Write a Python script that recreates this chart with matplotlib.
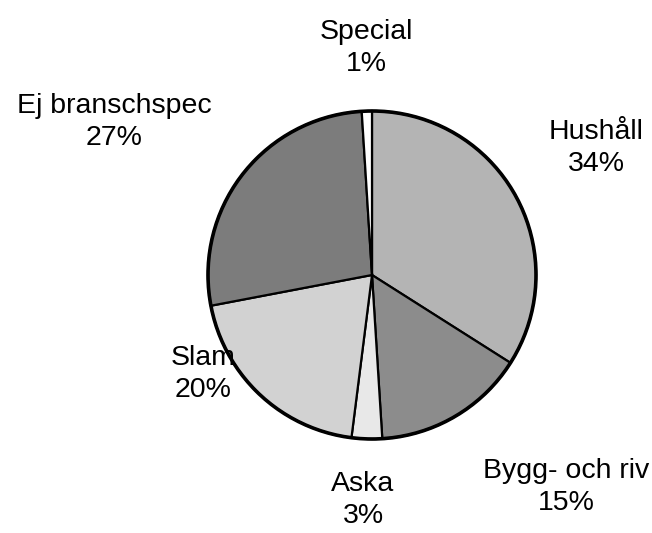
import matplotlib
matplotlib.use("Agg")
import matplotlib.pyplot as plt
import numpy as np

# data
labels = ["Hushåll", "Bygg- och riv", "Aska", "Slam", "Ej branschspec", "Special"]
shares = [34, 15, 3, 20, 27, 1]
greys = ["#b4b4b4", "#8c8c8c", "#e8e8e8", "#d2d2d2", "#7c7c7c", "#ffffff"]

# label centres in pixels from the top-left corner
label_pos = [(596, 148), (566, 487), (363, 500), (203, 374), (114, 122), (366, 48)]

W, H = 652, 533
fig = plt.figure(figsize=(W / 100, H / 100), dpi=100)
ax = fig.add_axes([0, 0, 1, 1])

cx, cy, r = 372, H - 275, 164

ax.pie(shares, colors=greys, startangle=90, counterclock=False,
       center=(cx, cy), radius=r, frame=True,
       wedgeprops=dict(edgecolor="black", linewidth=1.6))
ax.set_xlim(0, W)
ax.set_ylim(0, H)
ax.set_aspect("equal")
ax.axis("off")

# heavier outline around the whole pie
ax.add_patch(plt.Circle((cx, cy), r, fill=False, edgecolor="black", linewidth=2.6))

for lab, val, (px, py) in zip(labels, shares, label_pos):
    ax.text(px, H - py, f"{lab}\n{val}%", ha="center", va="center",
            fontsize=20.5, family="Liberation Sans", linespacing=1.3)

fig.savefig("out.png", dpi=100, facecolor="white")
